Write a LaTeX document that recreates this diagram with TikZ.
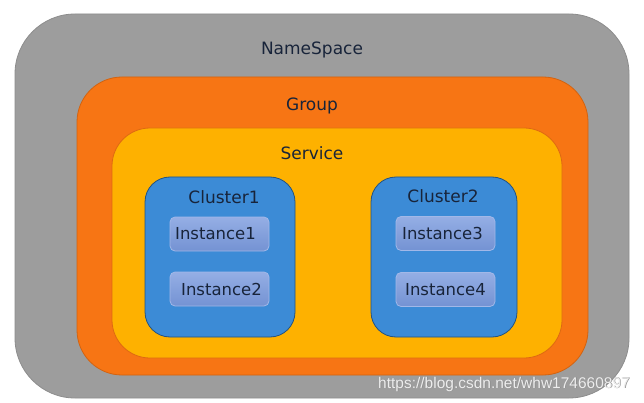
\documentclass[tikz,border=0pt]{standalone}
\usepackage{fontspec}
\setmainfont{DejaVu Sans}
\newfontfamily\markfont{Liberation Sans}
\usetikzlibrary{positioning}
\definecolor{nsgray}{RGB}{157,157,157}
\definecolor{grouporange}{RGB}{247,117,20}
\definecolor{serviceyellow}{RGB}{254,177,0}
\definecolor{clusterblue}{RGB}{60,139,214}
\definecolor{instblue}{RGB}{122,154,222}
\definecolor{labelnavy}{RGB}{24,36,58}
\tikzset{
  layer/.style={draw, line width=0.8pt, inner sep=0pt},
  inst/.style={layer, draw=instblue!70!white, rounded corners=5pt, top color=instblue!80!white, bottom color=instblue!95!black, minimum width=99pt, minimum height=34pt, font=\fontsize{16.5}{19}\selectfont, text=labelnavy},
  tag/.style={font=\fontsize{17}{20}\selectfont, text=labelnavy}
}
\begin{document}
\begin{tikzpicture}[x=1pt, y=-1pt]
\useasboundingbox[fill=white] (0,0) rectangle (644,403);
% nested layers
\node[layer, draw=nsgray!90!black, fill=nsgray, rounded corners=60pt, minimum width=614pt, minimum height=384pt] (ns) at (322,206) {};
\node[layer, draw=grouporange!85!black, fill=grouporange, rounded corners=45pt, minimum width=511pt, minimum height=298pt] (group) at (332.5,226) {};
\node[layer, draw=grouporange!90!black, fill=serviceyellow, rounded corners=38pt, minimum width=450pt, minimum height=230pt] (service) at (337,243) {};
\node[layer, draw=clusterblue!60!black, fill=clusterblue, rounded corners=25pt, minimum width=150pt, minimum height=160pt] (c1) at (220,257) {};
\node[layer, draw=clusterblue!60!black, fill=clusterblue, rounded corners=25pt, minimum width=146pt, minimum height=160pt] (c2) at (444,257) {};
% labels
\node[tag] (nslabel) at (312,50) {NameSpace};
\node[tag] (grouplabel) at (312,106) {Group};
\node[tag] (servicelabel) at (312,153) {Service};
\node[tag] (c1label) at (224,197) {Cluster1};
\node[tag] (c2label) at (443,196) {Cluster2};
% instances
\node[inst] (i1) at (219.5,234) {\hspace*{-8pt}Instance1};
\node[inst] (i2) at (219.5,289) {\hspace*{4pt}Instance2};
\node[inst] (i3) at (445.5,233.5) {\hspace*{-6pt}Instance3};
\node[inst] (i4) at (445.5,289.5) {Instance4};
% watermark
\node[font=\markfont\fontsize{15.5}{18}\selectfont, text=black!45] at (504.6,384.6) {https://blog.csdn.net/whw174660897};
\node[font=\markfont\fontsize{15.5}{18}\selectfont, text=white!93!black] (mark) at (504,384) {https://blog.csdn.net/whw174660897};
\end{tikzpicture}
\end{document}
